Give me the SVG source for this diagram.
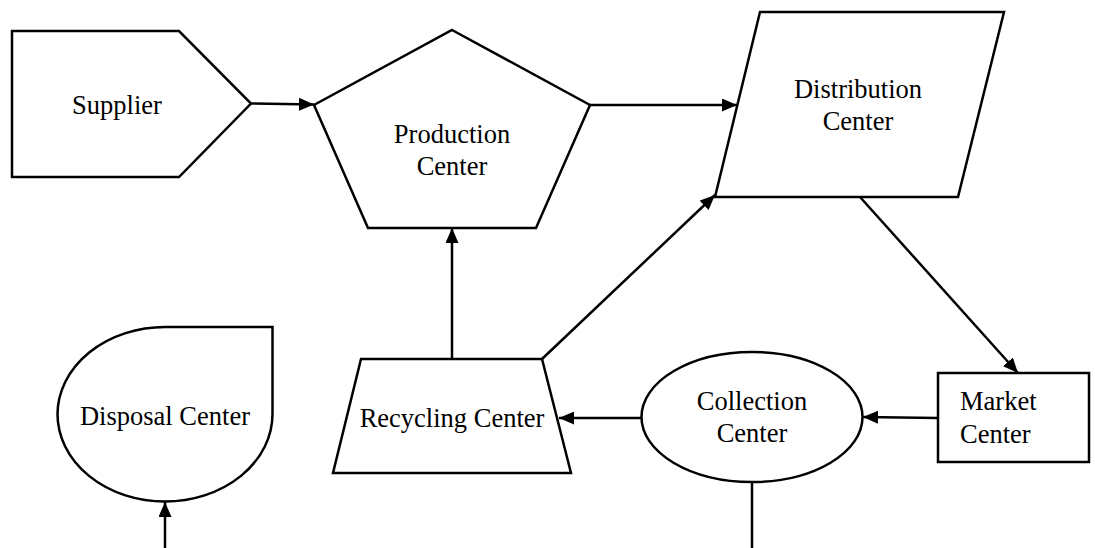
<svg xmlns="http://www.w3.org/2000/svg" width="1095" height="548" viewBox="0 0 1095 548">
<style>
.shape{fill:#fff;stroke:#000;stroke-width:2.5;stroke-linejoin:miter}
.lbl{font-family:"Liberation Serif","Times New Roman",serif;font-size:26.5px;fill:#000}
.mid{text-anchor:middle}
.conn{fill:none;stroke:#000;stroke-width:2.5}
.arr{marker-end:url(#ah)}
</style>
<defs>
<marker id="ah" viewBox="0 0 15 13" refX="15" refY="6.5" markerWidth="15" markerHeight="13" orient="auto" markerUnits="userSpaceOnUse">
<path d="M0,0 L15,6.5 L0,13 Z" fill="#000"/>
</marker>
</defs>
<rect width="1095" height="548" fill="#fff"/>
<g id="connectors">
<line class="conn arr" x1="251" y1="103.5" x2="314" y2="104.5"/>
<line class="conn arr" x1="590" y1="105" x2="737" y2="105"/>
<line class="conn arr" x1="860" y1="197" x2="1018" y2="373"/>
<line class="conn arr" x1="938" y1="418" x2="863" y2="417"/>
<line class="conn arr" x1="642" y1="418" x2="559" y2="418"/>
<line class="conn arr" x1="452" y1="359" x2="452" y2="228"/>
<line class="conn arr" x1="542" y1="359" x2="715" y2="195"/>
<line class="conn" x1="752" y1="482" x2="752" y2="548"/>
<line class="conn arr" x1="165" y1="548" x2="165" y2="502"/>
</g>
<g id="supplier">
<polygon class="shape" points="12,31 179,31 251,103.5 179,177 12,177"/>
<text class="lbl mid" x="117" y="114">Supplier</text>
</g>
<g id="production">
<polygon class="shape" points="452,30 590,105 536,228 368,228 314,105"/>
<text class="lbl mid" x="452" y="143">Production</text>
<text class="lbl mid" x="452" y="175">Center</text>
</g>
<g id="distribution">
<polygon class="shape" points="760,12 1004,12 958,197 715,197"/>
<text class="lbl mid" x="858" y="98">Distribution</text>
<text class="lbl mid" x="858" y="130">Center</text>
</g>
<g id="market">
<rect class="shape" x="938" y="373" width="151" height="89"/>
<text class="lbl" x="960" y="410">Market</text>
<text class="lbl" x="960" y="443">Center</text>
</g>
<g id="collection">
<ellipse class="shape" cx="752" cy="417" rx="110.5" ry="65"/>
<text class="lbl mid" x="752" y="410">Collection</text>
<text class="lbl mid" x="752" y="442">Center</text>
</g>
<g id="recycling">
<polygon class="shape" points="361,359 542,359 571,473 333,473"/>
<text class="lbl mid" x="452" y="427">Recycling Center</text>
</g>
<g id="disposal">
<path class="shape" d="M165,327 L272.5,327 L272.5,414 A107.5,87.5 0 0 1 165,501.5 A107.5,87.5 0 0 1 57.5,414 A107.5,87.5 0 0 1 165,327 Z"/>
<text class="lbl mid" x="165" y="425">Disposal Center</text>
</g>
</svg>
